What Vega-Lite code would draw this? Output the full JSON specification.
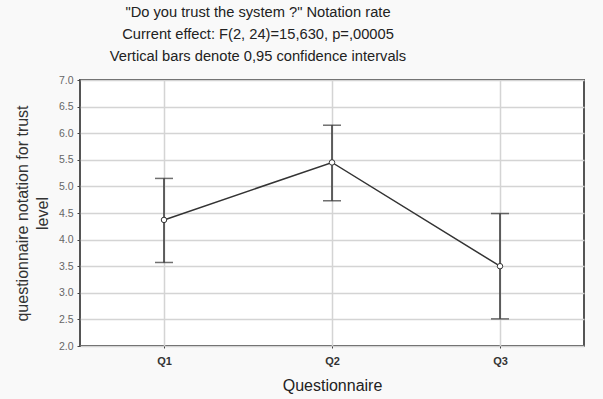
{
  "$schema": "https://vega.github.io/schema/vega-lite/v6.json",
  "width": 504,
  "height": 266,
  "autosize": {"type": "none"},
  "padding": {"left": 80, "top": 80, "right": 19, "bottom": 53},
  "background": "#f9f9f9",
  "title": {
    "text": ["\"Do you trust the system ?\" Notation rate", "Current effect: F(2, 24)=15,630, p=,00005", "Vertical bars denote 0,95 confidence intervals"],
    "anchor": "middle",
    "dx": -74,
    "offset": 11,
    "font": "Liberation Sans",
    "fontSize": 14.7,
    "fontWeight": "normal",
    "lineHeight": 22,
    "color": "#222"
  },
  "data": {
    "values": [
      {"q": "Q1", "mean": 4.37, "lo": 3.57, "hi": 5.15},
      {"q": "Q2", "mean": 5.45, "lo": 4.73, "hi": 6.15},
      {"q": "Q3", "mean": 3.5, "lo": 2.51, "hi": 4.49}
    ]
  },
  "encoding": {
    "x": {
      "field": "q",
      "type": "ordinal",
      "scale": {"type": "point", "padding": 0.5},
      "axis": {
        "title": "Questionnaire",
        "labelAngle": 0,
        "labelFont": "Liberation Sans",
        "labelFontWeight": "bold",
        "labelFontSize": 11,
        "labelColor": "#333",
        "labelPadding": 7,
        "titleFont": "Liberation Sans",
        "titleFontSize": 16,
        "titleFontWeight": "normal",
        "titleColor": "#222",
        "titlePadding": 11,
        "grid": true,
        "gridColor": "#d4d4d4",
        "gridWidth": 1.5,
        "domain": false,
        "tickSize": 2,
        "tickColor": "#444"
      }
    }
  },
  "layer": [
    {
      "mark": {"type": "rule", "color": "#333", "strokeWidth": 1.5},
      "encoding": {
        "y": {
          "field": "lo",
          "type": "quantitative",
          "scale": {"domain": [2, 7], "nice": false, "zero": false},
          "axis": {"title": ["questionnaire notation for trust", "level"], "values": [2, 2.5, 3, 3.5, 4, 4.5, 5, 5.5, 6, 6.5, 7]}
        },
        "y2": {"field": "hi"}
      }
    },
    {
      "mark": {"type": "tick", "color": "#333", "size": 18, "thickness": 1.5, "orient": "horizontal"},
      "encoding": {"y": {"field": "lo", "type": "quantitative", "axis": {"title": ["questionnaire notation for trust", "level"], "values": [2, 2.5, 3, 3.5, 4, 4.5, 5, 5.5, 6, 6.5, 7]}}}
    },
    {
      "mark": {"type": "tick", "color": "#333", "size": 18, "thickness": 1.5, "orient": "horizontal"},
      "encoding": {"y": {"field": "hi", "type": "quantitative", "axis": {"title": ["questionnaire notation for trust", "level"], "values": [2, 2.5, 3, 3.5, 4, 4.5, 5, 5.5, 6, 6.5, 7]}}}
    },
    {
      "mark": {"type": "line", "color": "#333", "strokeWidth": 1.5},
      "encoding": {"y": {"field": "mean", "type": "quantitative", "axis": {"title": ["questionnaire notation for trust", "level"], "values": [2, 2.5, 3, 3.5, 4, 4.5, 5, 5.5, 6, 6.5, 7]}}}
    },
    {
      "mark": {"type": "point", "filled": true, "fill": "white", "stroke": "#333", "strokeWidth": 1, "size": 30, "opacity": 1},
      "encoding": {"y": {"field": "mean", "type": "quantitative", "axis": {"title": ["questionnaire notation for trust", "level"], "values": [2, 2.5, 3, 3.5, 4, 4.5, 5, 5.5, 6, 6.5, 7]}}}
    }
  ],
  "config": {
    "view": {"fill": "white", "stroke": "#555", "strokeWidth": 2},
    "axisY": {
      "format": ".1f",
      "labelOverlap": false,
      "labelFont": "Liberation Sans",
      "labelFontSize": 10.5,
      "labelColor": "#666",
      "labelPadding": 4,
      "titleFont": "Liberation Sans",
      "titleFontSize": 16,
      "titleFontWeight": "normal",
      "titleColor": "#333",
      "titlePadding": 8,
      "titleLineHeight": 20,
      "grid": true,
      "gridColor": "#d4d4d4",
      "gridWidth": 1.5,
      "domain": false,
      "tickSize": 3,
      "tickColor": "#444"
    }
  }
}
